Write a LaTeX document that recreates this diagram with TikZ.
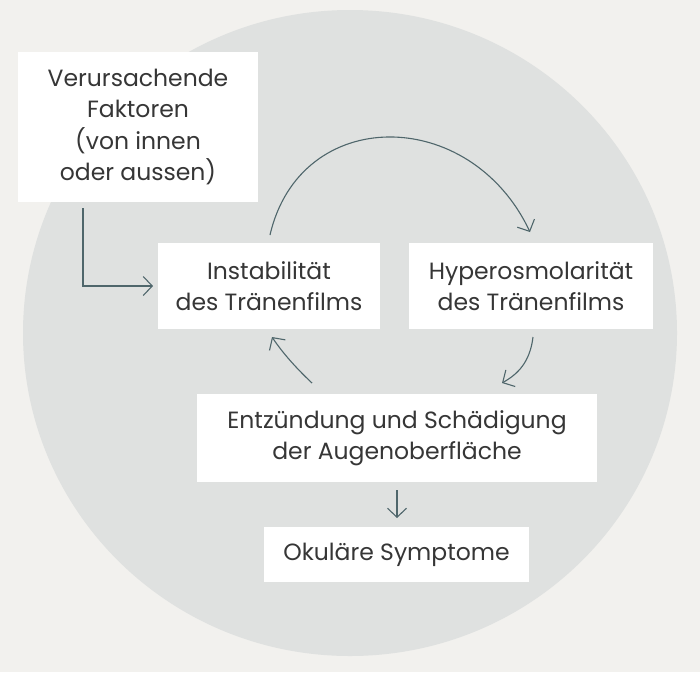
\documentclass[tikz,border=0pt]{standalone}
\usepackage{fontspec}
\setmainfont{Poppins}
\usetikzlibrary{arrows.meta}
\definecolor{bg}{HTML}{F2F1EE}
\definecolor{disc}{HTML}{DFE1E0}
\definecolor{txt}{HTML}{363636}
\definecolor{arr}{HTML}{4F666B}
\tikzset{
  box/.style={fill=white, text=txt, align=center, inner sep=0pt,
    font=\fontsize{23.5}{31.5}\selectfont},
  conn/.style={draw=arr, line width=1.1pt,
    -{Straight Barb[length=9pt,width=19pt,line width=1.1pt]}},
}
\begin{document}
\begin{tikzpicture}[x=1pt,y=-1pt]
\fill[bg] (0,0) rectangle (700,672);
\useasboundingbox (0,0) rectangle (700,672);
\fill[disc] (350,333) ellipse[x radius=327, y radius=323];
\node[box, minimum width=240pt, minimum height=150pt] (v) at (138,127)
  {Verursachende\\Faktoren\\(von innen\\oder aussen)};
\node[box, minimum width=222pt, minimum height=86pt] (ins) at (269,286)
  {Instabilität\\des Tränenfilms};
\node[box, minimum width=244pt, minimum height=86pt] (hyp) at (531,286)
  {Hyperosmolarität\\des Tränenfilms};
\node[box, minimum width=400pt, minimum height=88pt] (ent) at (397,438)
  {Entzündung und Schädigung\\der Augenoberfläche};
\node[box, minimum width=265pt, minimum height=55pt] (ok) at (396.5,554.5)
  {Okuläre Symptome};
% connector end points
\coordinate (v1) at (83,208);
\coordinate (v2) at (153,286);
\coordinate (a1) at (270,235);
\coordinate (a2) at (530,232);
\coordinate (r1) at (533,337);
\coordinate (r2) at (502,383);
\coordinate (l1) at (312,383);
\coordinate (l2) at (272,337);
\coordinate (d1) at (397,490);
\coordinate (d2) at (397,518);
\draw[conn] (v1) |- (v2);
\draw[conn] (a1) .. controls (300,105) and (470,105) .. (a2);
\draw[conn] (r1) .. controls (530,362) and (518,374) .. (r2);
\draw[conn] (l1) .. controls (295,367) and (282,352) .. (l2);
\draw[conn] (d1) -- (d2);
\end{tikzpicture}
\end{document}
